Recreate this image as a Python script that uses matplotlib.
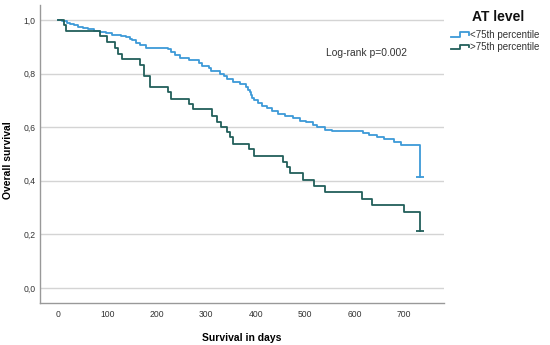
import matplotlib
matplotlib.use("Agg")
import matplotlib.pyplot as plt
from matplotlib.legend_handler import HandlerBase
from matplotlib.lines import Line2D

plt.rcParams['font.family'] = ['Liberation Sans', 'DejaVu Sans']

# Kaplan-Meier steps: (time in days, survival after the step)
low_times = [0, 8, 18, 25, 32, 40, 50, 60, 72, 85, 98, 110, 128, 138, 145, 150, 158,
             165, 178, 222, 228, 237, 247, 265, 285, 292, 305, 310, 328, 335, 342,
             355, 368, 380, 385, 388, 390, 393, 396, 405, 412, 422, 433, 445, 460,
             475, 490, 502, 515, 525, 540, 555, 617, 630, 645, 660, 680, 695, 732, 732]
low_surv = [1.0, 0.995, 0.99, 0.985, 0.98, 0.975, 0.97, 0.965, 0.96, 0.955, 0.95, 0.945,
            0.94, 0.935, 0.93, 0.925, 0.915, 0.905, 0.895, 0.89, 0.88, 0.87, 0.86, 0.85,
            0.84, 0.83, 0.82, 0.81, 0.80, 0.79, 0.78, 0.77, 0.76, 0.75, 0.74, 0.73,
            0.72, 0.71, 0.70, 0.69, 0.68, 0.67, 0.66, 0.65, 0.64, 0.635, 0.625, 0.62,
            0.61, 0.60, 0.59, 0.585, 0.58, 0.57, 0.565, 0.555, 0.545, 0.535, 0.535, 0.415]

high_times = [0, 12, 17, 84, 100, 115, 122, 129, 165, 174, 187, 223, 228, 265, 274,
              311, 321, 329, 341, 349, 355, 387, 397, 455, 463, 470, 496, 517, 540,
              616, 635, 700, 732, 732]
high_surv = [1.0, 0.98, 0.959, 0.94, 0.917, 0.897, 0.873, 0.854, 0.832, 0.791, 0.75,
             0.731, 0.706, 0.687, 0.667, 0.641, 0.619, 0.60, 0.581, 0.562, 0.537,
             0.518, 0.494, 0.471, 0.45, 0.428, 0.403, 0.382, 0.357, 0.332, 0.31,
             0.285, 0.285, 0.213]

group_labels = ['<75th percentile', '>75th percentile']
group_colors = ['#3d9ad8', '#225f5a']

x_ticks = [0, 100, 200, 300, 400, 500, 600, 700]
y_ticks = [0.0, 0.2, 0.4, 0.6, 0.8, 1.0]
y_tick_labels = ['0,0', '0,2', '0,4', '0,6', '0,8', '1,0']


class StepHandler(HandlerBase):
    # little step glyph like the SPSS legend
    def create_artists(self, legend, orig_handle, xdescent, ydescent,
                       width, height, fontsize, trans):
        xs = [0, 0.5 * width, 0.5 * width, width, width]
        ys = [0.2 * height, 0.2 * height, 0.85 * height, 0.85 * height, 0.45 * height]
        ln = Line2D([x - xdescent for x in xs], [y - ydescent for y in ys],
                    color=orig_handle.get_color(), lw=1.3)
        ln.set_transform(trans)
        return [ln]


fig = plt.figure(figsize=(5.5, 3.45), dpi=100)
ax = fig.add_axes([40 / 550, 42 / 345, 404 / 550, 298 / 345])

handles = []
for t, s, c, lab in [(low_times, low_surv, group_colors[0], group_labels[0]),
                     (high_times, high_surv, group_colors[1], group_labels[1])]:
    h, = ax.step(t, s, where='post', color=c, lw=1.3, label=lab, zorder=3)
    ax.plot([t[-1]], [s[-1]], marker='_', ms=6, mew=1.3, color=c, zorder=3)
    handles.append(h)

ax.set_xlim(-36.4, 781)
ax.set_ylim(-0.056, 1.056)
ax.set_xticks(x_ticks)
ax.set_yticks(y_ticks)
ax.set_yticklabels(y_tick_labels)
ax.tick_params(length=0, labelsize=6.2, colors='#333333')
ax.tick_params(axis='x', pad=5)
ax.tick_params(axis='y', pad=3)
ax.yaxis.grid(True, color='#d4d4d4', lw=1.0)
ax.set_axisbelow(True)
for side in ['top', 'right']:
    ax.spines[side].set_visible(False)
for side in ['left', 'bottom']:
    ax.spines[side].set_color('#999999')
    ax.spines[side].set_linewidth(1.0)

ax.set_xlabel('Survival in days', fontsize=7.5, fontweight='bold', labelpad=10)
ax.set_ylabel('Overall survival', fontsize=7.5, fontweight='bold')
ax.yaxis.set_label_coords(-0.066, 0.48)

ax.text(0.809, 0.84, 'Log-rank p=0.002', transform=ax.transAxes,
        ha='center', va='center', fontsize=7.4, color='#333333')

fig.text(498 / 550, 1 - 17 / 345, 'AT level', ha='center', va='center',
         fontsize=10, fontweight='bold', color='#111111')
leg = fig.legend(handles=handles, labels=group_labels,
                 loc='upper left', bbox_to_anchor=(451 / 550, 1 - 30 / 345),
                 frameon=False, fontsize=7, borderpad=0, borderaxespad=0,
                 handlelength=1.8, handletextpad=0.15, labelspacing=0.25,
                 handler_map={Line2D: StepHandler()})
for txt in leg.get_texts():
    txt.set_color('#333333')

fig.savefig('out.png', dpi=100)
